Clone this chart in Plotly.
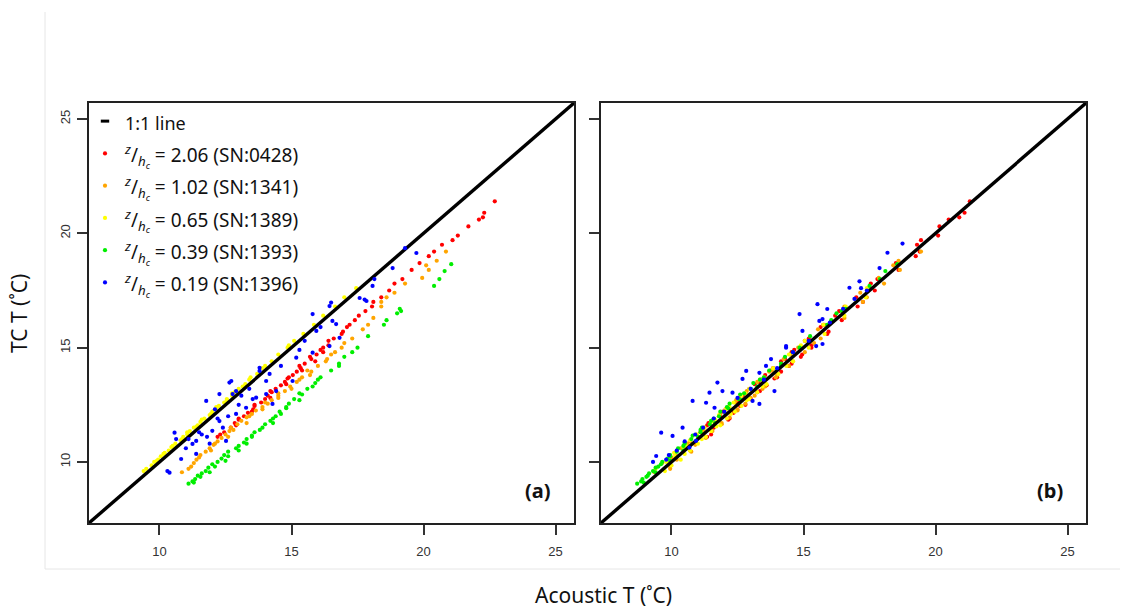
import plotly.graph_objects as go

# ---------------- data ----------------
axis_range = [7.33, 25.7]
tick_vals = [10, 15, 20, 25]

series_labels = ["2.06 (SN:0428)", "1.02 (SN:1341)", "0.65 (SN:1389)", "0.39 (SN:1393)", "0.19 (SN:1396)"]
series_colors = ["#ff0000", "#ffa500", "#ffff00", "#00ee00", "#0000ff"]

# SN:0428 (red)
tc_red = [11.1, 11.3, 11.5, 11.7, 11.85, 12.0, 12.15, 12.3, 12.45, 12.6, 12.75, 12.9, 13.05, 13.2,
          13.35, 13.5, 13.65, 13.8, 13.95, 14.1, 14.3, 14.5, 14.7, 14.9, 15.1, 15.4, 15.7, 15.9,
          16.2, 16.4, 16.8, 17.2, 17.5, 18.0, 18.4, 18.7, 19.2, 19.5, 19.9, 20.3, 20.7, 21.4,
          11.2, 11.6, 11.9, 12.2, 12.5, 12.8, 13.1, 13.4, 13.7, 14.0, 14.2, 14.4, 14.6, 14.8,
          15.0, 15.3, 15.6, 16.0, 16.6, 17.0, 17.8, 19.0, 19.7, 20.6, 20.9]
ac_a_red = [12.2, 12.45, 12.7, 12.85, 13.0, 13.2, 13.35, 13.55, 13.6, 13.85, 14.0, 14.1, 14.25, 14.4,
            14.6, 14.75, 14.85, 15.05, 15.2, 15.35, 15.5, 15.75, 15.95, 16.1, 16.4, 16.6, 16.95, 17.1,
            17.4, 17.55, 18.05, 18.4, 18.7, 19.2, 19.55, 19.85, 20.4, 20.7, 21.3, 21.7, 22.25, 22.7,
            12.3, 12.9, 13.0, 13.5, 13.6, 14.2, 14.2, 14.8, 14.9, 15.4, 15.3, 15.9, 15.7, 16.2,
            16.2, 16.4, 16.9, 17.2, 17.8, 18.1, 18.9, 20.2, 21.1, 22.1, 22.3]
ac_b_red = [11.35, 11.1, 11.6, 11.4, 12.15, 11.85, 12.35, 12.05, 12.6, 12.5, 13.0, 12.7, 13.25, 12.95,
            13.6, 13.3, 13.9, 13.55, 14.15, 13.85, 14.55, 14.3, 14.95, 14.65, 15.3, 15.2, 15.95, 15.65,
            16.45, 16.2, 17.05, 17.0, 17.7, 17.8, 18.6, 18.5, 19.4, 19.3, 20.1, 20.15, 20.9, 21.3,
            11.5, 11.35, 12.2, 11.95, 12.8, 12.55, 13.35, 13.15, 14.0, 13.75, 14.45, 14.15, 14.9, 14.55,
            15.3, 15.05, 15.9, 15.75, 16.35, 17.25, 17.55, 19.25, 19.45, 20.5, 21.1]

# SN:1341 (orange)
tc_orange = [9.55, 9.7, 9.95, 10.1, 10.3, 10.45, 10.6, 10.75, 10.9, 11.05, 11.2, 11.35, 11.5, 11.65,
             11.8, 11.95, 12.1, 12.25, 12.4, 12.55, 12.7, 12.9, 13.1, 13.3, 13.5, 13.7, 13.95, 14.2,
             14.5, 14.8, 15.0, 15.4, 15.8, 16.3, 16.8, 17.0, 17.4, 17.8, 18.05, 18.4, 18.8, 19.2,
             9.8, 10.2, 10.5, 10.8, 11.1, 11.4, 11.7, 12.0, 12.3, 12.6, 12.8, 13.0, 13.2, 13.6,
             13.8, 14.0, 14.4, 14.7, 15.2, 16.0, 17.2, 18.6]
ac_a_orange = [10.85, 11.1, 11.3, 11.4, 11.55, 11.75, 11.9, 12.05, 12.2, 12.35, 12.5, 12.65, 12.7, 12.95,
               13.1, 13.3, 13.5, 13.65, 13.9, 14.1, 14.25, 14.5, 14.75, 14.95, 15.2, 15.4, 15.75, 16.0,
               16.35, 16.65, 16.9, 17.3, 17.7, 18.1, 18.4, 18.4, 18.9, 19.3, 19.95, 20.2, 20.5, 20.85,
               11.2, 11.5, 11.95, 12.1, 12.6, 12.8, 13.3, 13.4, 13.9, 14.0, 14.5, 14.5, 15.0, 15.3,
               15.7, 15.6, 16.3, 16.5, 17.0, 17.9, 18.6, 20.1]
ac_b_orange = [9.35, 9.95, 9.65, 10.2, 10.15, 10.75, 10.35, 10.9, 10.7, 11.3, 10.95, 11.55, 11.25, 11.9,
               11.6, 12.2, 11.85, 12.5, 12.15, 12.8, 12.45, 13.15, 12.85, 13.55, 13.25, 13.95, 13.7, 14.45,
               14.25, 15.05, 14.8, 15.65, 15.55, 16.55, 16.55, 17.25, 17.15, 18.05, 17.85, 18.65, 18.6, 19.45,
               9.95, 10.0, 10.7, 10.6, 11.3, 11.2, 11.9, 11.8, 12.5, 12.4, 13.0, 12.8, 13.45, 13.4,
               14.0, 13.8, 14.6, 14.5, 15.4, 15.8, 17.4, 18.4]

# SN:1389 (yellow)
tc_yellow = [9.7, 9.85, 10.0, 10.1, 10.25, 10.4, 10.5, 10.65, 10.8, 10.95, 11.1, 11.2, 11.35, 11.5,
             11.6, 11.75, 11.9, 12.05, 12.2, 12.3, 12.45, 12.6, 12.75, 12.9, 13.05, 13.2, 13.4, 13.6,
             13.85, 14.1, 14.4, 14.7, 15.0, 15.3, 15.6, 16.0, 16.4, 16.8, 17.2, 17.6,
             9.6, 10.05, 10.35, 10.7, 11.0, 11.3, 11.55, 11.85, 12.1, 12.4, 12.7, 13.0, 13.3, 13.7,
             14.2, 15.1]
ac_a_yellow = [9.5, 9.7, 9.8, 9.95, 10.05, 10.2, 10.35, 10.45, 10.6, 10.8, 10.9, 11.05, 11.15, 11.3,
               11.45, 11.55, 11.7, 11.9, 12.0, 12.15, 12.25, 12.45, 12.55, 12.75, 12.85, 13.0, 13.25, 13.4,
               13.7, 13.9, 14.25, 14.5, 14.85, 15.1, 15.45, 15.85, 16.2, 16.65, 17.0, 17.45,
               9.4, 9.9, 10.15, 10.5, 10.85, 11.05, 11.4, 11.6, 11.95, 12.15, 12.55, 12.75, 13.15, 13.45,
               14.0, 14.9]
ac_b_yellow = [9.4, 10.0, 9.8, 10.35, 10.15, 10.1, 10.7, 10.45, 11.0, 10.7, 11.3, 10.95, 11.5, 11.25,
               11.85, 11.5, 12.1, 11.8, 12.4, 12.05, 12.65, 12.35, 12.95, 12.65, 13.25, 12.95, 13.6, 13.35,
               14.05, 13.85, 14.6, 14.45, 15.2, 15.05, 15.8, 15.75, 16.55, 16.6, 17.35, 17.4,
               9.75, 9.85, 10.5, 10.55, 11.15, 11.1, 11.7, 11.65, 12.25, 12.2, 12.85, 12.8, 13.45, 13.5,
               14.35, 14.9]

# SN:1393 (green)
tc_green = [9.05, 9.15, 9.25, 9.4, 9.5, 9.6, 9.75, 9.9, 10.0, 10.15, 10.3, 10.45, 10.6, 10.7,
            10.85, 11.0, 11.15, 11.3, 11.5, 11.65, 11.8, 12.0, 12.2, 12.35, 12.55, 12.75, 12.95, 13.2,
            13.45, 13.7, 14.0, 14.3, 14.6, 15.0, 15.5, 16.2, 16.5, 16.7, 17.7, 18.0, 18.35, 18.65,
            9.1, 9.35, 9.55, 9.8, 10.05, 10.25, 10.5, 10.8, 11.1, 11.4, 11.7, 11.9, 12.1, 12.4,
            12.7, 13.0, 13.3, 13.6, 14.2, 14.8, 16.0, 16.6]
ac_a_green = [11.1, 11.25, 11.35, 11.45, 11.6, 11.75, 11.85, 12.0, 12.2, 12.35, 12.45, 12.6, 12.9, 13.0,
              13.2, 13.3, 13.5, 13.6, 13.9, 14.0, 14.2, 14.4, 14.55, 14.8, 14.9, 15.1, 15.4, 15.6,
              15.9, 16.1, 16.5, 16.8, 17.0, 17.5, 17.9, 18.6, 19.0, 19.1, 20.4, 20.6, 20.8, 21.05,
              11.3, 11.55, 11.9, 12.1, 12.5, 12.6, 13.0, 13.3, 13.5, 13.8, 14.3, 14.3, 14.6, 14.8,
              15.3, 15.3, 15.8, 16.0, 16.8, 17.3, 18.5, 19.15]
ac_b_green = [8.7, 8.85, 8.9, 9.1, 9.15, 9.3, 9.4, 9.6, 9.65, 9.85, 9.95, 10.2, 10.25, 10.45,
              10.5, 10.75, 10.8, 11.1, 11.15, 11.45, 11.5, 11.8, 11.85, 12.15, 12.2, 12.55, 12.6, 13.0,
              13.1, 13.5, 13.7, 14.15, 14.3, 14.85, 15.25, 16.05, 16.25, 16.6, 17.5, 17.9, 18.1, 18.55,
              8.95, 9.05, 9.4, 9.5, 9.95, 9.95, 10.45, 10.5, 11.0, 11.1, 11.65, 11.6, 12.05, 12.1,
              12.65, 12.75, 13.25, 13.35, 14.15, 14.6, 15.9, 16.45]

# SN:1396 (blue), panel (a)
ac_a_blue = [10.3, 10.38, 10.57, 10.63, 10.82, 11.25, 11.39, 11.39, 11.77, 11.9, 12.0, 12.27, 12.27, 12.4,
             12.52, 12.65, 12.72, 12.77, 12.9, 12.9, 13.28, 13.53, 13.66, 13.79, 13.79, 14.04, 14.04, 14.17,
             14.28, 14.42, 15.04, 15.18, 15.8, 15.8, 15.94, 16.44, 16.44, 16.5, 16.55, 16.69, 16.82, 17.58,
             17.77, 17.84, 18.07, 18.14, 18.83, 19.73, 11.1, 11.6, 12.1, 13.1, 15.5, 19.3,
             11.0, 11.5, 11.8, 12.2, 12.6, 13.0, 13.4, 14.6, 15.3, 16.1]
tc_a_blue = [9.6, 9.53, 11.28, 11.0, 10.13, 10.79, 10.92, 10.35, 12.67, 10.8, 11.36, 12.97, 11.79, 11.5,
             10.92, 13.47, 13.54, 12.97, 12.1, 13.1, 12.37, 12.75, 12.81, 14.12, 13.98, 12.97, 13.54, 13.85,
             12.54, 13.1, 13.54, 14.56, 14.78, 16.47, 15.73, 16.82, 15.07, 16.97, 16.17, 16.03, 15.43, 17.17,
             17.1, 17.04, 17.7, 18.0, 18.48, 19.14, 11.0, 11.2, 12.3, 12.9, 15.3, 19.35,
             10.6, 11.3, 11.1, 11.9, 12.0, 12.5, 13.2, 14.2, 14.9, 15.9]

# SN:1396 (blue), panel (b)
ac_b_blue = [9.42, 9.61, 10.04, 10.42, 10.8, 11.31, 11.44, 11.74, 11.93, 11.63, 12.31, 12.83, 12.69, 13.33,
             13.58, 13.77, 13.07, 13.33, 13.9, 14.34, 14.85, 14.96, 15.53, 15.6, 15.72, 10.93, 10.68, 18.18,
             18.75, 17.88, 17.12, 17.18, 16.74, 16.93, 15.9, 15.72, 15.48, 14.34, 9.8, 10.2, 10.5, 10.9,
             11.2, 11.6, 12.0, 12.5, 13.0, 13.5, 14.0, 14.6, 15.2, 16.0, 16.5, 17.4, 9.3, 9.9]
tc_b_blue = [10.26, 11.28, 11.14, 11.5, 12.67, 12.59, 13.03, 13.47, 13.1, 12.37, 13.03, 13.98, 13.63, 13.9,
             14.2, 14.5, 12.67, 12.54, 13.1, 15.0, 16.47, 15.73, 16.9, 16.17, 15.16, 10.92, 10.63, 19.15,
             19.55, 18.48, 17.9, 17.6, 17.62, 17.13, 16.69, 16.25, 15.07, 15.07, 10.1, 10.5, 10.9, 11.2,
             11.5, 11.9, 12.2, 12.8, 13.2, 13.6, 14.1, 14.8, 15.3, 16.1, 16.7, 17.5, 10.0, 10.3]

panel_a = [(ac_a_red, tc_red), (ac_a_orange, tc_orange), (ac_a_yellow, tc_yellow),
           (ac_a_green, tc_green), (ac_a_blue, tc_a_blue)]
panel_b = [(ac_b_red, tc_red), (ac_b_orange, tc_orange), (ac_b_yellow, tc_yellow),
           (ac_b_green, tc_green), (ac_b_blue, tc_b_blue)]

# ---------------- figure ----------------
LEG_TXT = "<span style='font-size:19px'>%s</span>"
MATH = "<sup><i>z</i></sup>/<sub><i>h<sub>c</sub></i></sub> = "
series_names = [LEG_TXT % (MATH + s) for s in series_labels]

fig = go.Figure()
MS = 4.2


def add_panel(data, xa, ya, show_legend):
    for i in range(4):
        x, y = data[i]
        fig.add_trace(go.Scatter(
            x=x, y=y, mode="markers", xaxis=xa, yaxis=ya,
            marker=dict(color=series_colors[i], size=MS, line=dict(width=0)),
            name=series_names[i], showlegend=show_legend, legendrank=2 + i,
            hoverinfo="skip"))
    fig.add_trace(go.Scatter(
        x=axis_range, y=axis_range, mode="lines", xaxis=xa, yaxis=ya,
        line=dict(color="black", width=3.4), showlegend=False, hoverinfo="skip"))
    x, y = data[4]
    fig.add_trace(go.Scatter(
        x=x, y=y, mode="markers", xaxis=xa, yaxis=ya,
        marker=dict(color=series_colors[4], size=MS, line=dict(width=0)),
        name=series_names[4], showlegend=show_legend, legendrank=6,
        hoverinfo="skip"))


add_panel(panel_a, "x", "y", True)
add_panel(panel_b, "x2", "y2", False)

fig.add_trace(go.Scatter(
    x=[None], y=[None], mode="markers", xaxis="x", yaxis="y",
    marker=dict(symbol="line-ew-open", color="black", size=6, line=dict(width=3, color="black")),
    name="<span style='font-size:18px'>1:1 line</span>", showlegend=True, legendrank=1))

axis_common = dict(
    range=axis_range, tickvals=tick_vals, showgrid=False, zeroline=False,
    showline=True, mirror=True, linecolor="#222222", linewidth=2,
    ticks="outside", ticklen=10, tickwidth=1.5, tickcolor="#333333",
    tickfont=dict(family="Liberation Sans, Arial, sans-serif", size=13, color="#333333"),
)

xa_dom = [89 / 1123, 574 / 1123]
xb_dom = [601 / 1123, 1086 / 1123]
y_dom = [1 - 523 / 609, 1 - 103 / 609]

fig.update_layout(
    width=1123, height=609,
    margin=dict(l=0, r=0, t=0, b=0),
    paper_bgcolor="white", plot_bgcolor="white",
    xaxis=dict(domain=xa_dom, anchor="y", ticklabelstandoff=5, **axis_common),
    yaxis=dict(domain=y_dom, anchor="x", tickangle=-90, ticklabelstandoff=2, **axis_common),
    xaxis2=dict(domain=xb_dom, anchor="y2", ticklabelstandoff=5, **axis_common),
    yaxis2=dict(domain=y_dom, anchor="x2", showticklabels=False, **axis_common),
    legend=dict(
        x=85 / 1123, y=1 - 100 / 609, xanchor="left", yanchor="top",
        bgcolor="rgba(0,0,0,0)", borderwidth=0,
        font=dict(family="Noto Sans, Open Sans, sans-serif", size=22.5, color="#111111"),
        itemsizing="trace", tracegroupgap=0, traceorder="normal",
    ),
    showlegend=True,
)

LBL_FONT = dict(family="Noto Sans, Open Sans, sans-serif", size=20, color="#111111")
fig.add_annotation(x=0.957, y=(523 - 490) / 420, xref="x domain", yref="y domain", text="<b>(a)</b>",
                   showarrow=False, xanchor="right", yanchor="middle", font=LBL_FONT)
fig.add_annotation(x=0.957, y=(523 - 490) / 420, xref="x2 domain", yref="y2 domain", text="<b>(b)</b>",
                   showarrow=False, xanchor="right", yanchor="middle", font=LBL_FONT)

TITLE_FONT = dict(family="Noto Sans, Open Sans, sans-serif", size=21, color="#111111")
fig.add_annotation(x=603 / 1123, y=1 - 595 / 609, xref="paper", yref="paper",
                   text="Acoustic T (˚C)", showarrow=False, xanchor="center", yanchor="middle",
                   font=TITLE_FONT)
fig.add_annotation(x=19 / 1123, y=1 - 314 / 609, xref="paper", yref="paper",
                   text="TC T (˚C)", showarrow=False, textangle=-90, xanchor="center", yanchor="middle",
                   font=TITLE_FONT)

fig.add_shape(type="line", xref="paper", yref="paper", x0=45 / 1123, x1=45 / 1123,
              y0=1 - 569 / 609, y1=1 - 12 / 609, line=dict(color="#e6e6e6", width=1))
fig.add_shape(type="line", xref="paper", yref="paper", x0=45 / 1123, x1=1120 / 1123,
              y0=1 - 569 / 609, y1=1 - 569 / 609, line=dict(color="#e6e6e6", width=1))

fig.write_html("out.html")
